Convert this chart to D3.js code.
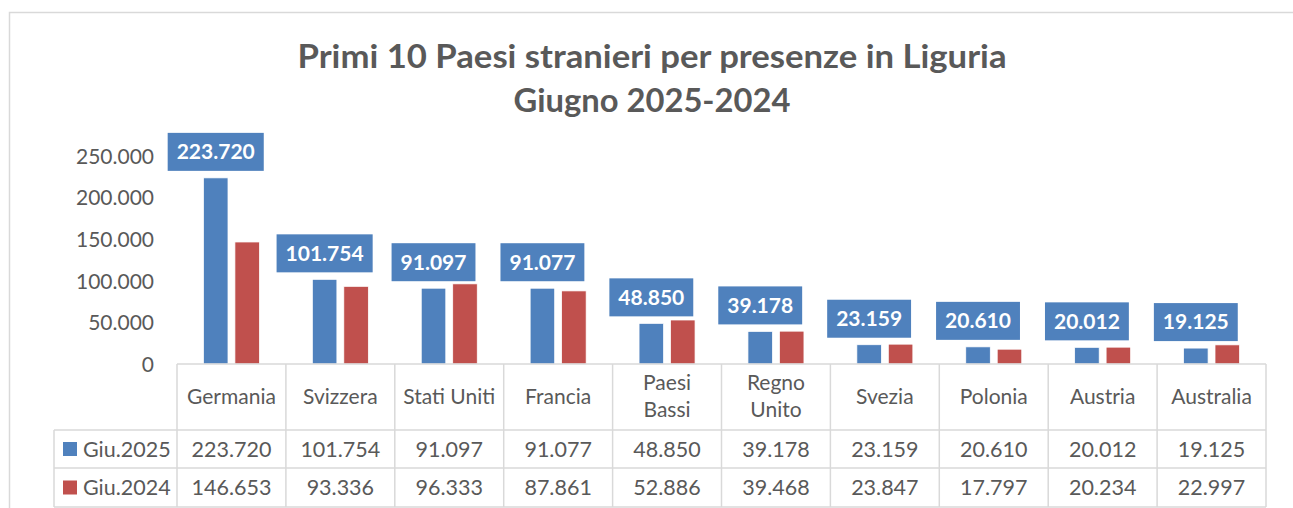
<!DOCTYPE html>
<html>
<head>
<meta charset="utf-8">
<script src="https://cdn.jsdelivr.net/npm/d3@7"></script>
<style>
  html, body { margin: 0; padding: 0; background: #fff; }
  svg { display: block; font-family: Lato, "Open Sans", sans-serif; }
</style>
</head>
<body>
<svg id="chart" width="1293" height="508"></svg>
<script>
// ---- data ----
const titleLines = ["Primi 10 Paesi stranieri per presenze in Liguria", "Giugno 2025-2024"];
const categories = ["Germania", "Svizzera", "Stati Uniti", "Francia", "Paesi Bassi", "Regno Unito", "Svezia", "Polonia", "Austria", "Australia"];
const seriesNames = ["Giu.2025", "Giu.2024"];
const giu2025 = [223720, 101754, 91097, 91077, 48850, 39178, 23159, 20610, 20012, 19125];
const giu2024 = [146653, 93336, 96333, 87861, 52886, 39468, 23847, 17797, 20234, 22997];
const yTicks = [0, 50000, 100000, 150000, 200000, 250000];
const seriesColors = ["#4F81BD", "#C0504D"];

const seriesValues = [giu2025, giu2024];
const itLocale = d3.formatLocale({ decimal: ",", thousands: ".", grouping: [3], currency: ["€", ""] });
const fmt = itLocale.format(",d");

const svg = d3.select("#chart");
const textColor = "#595959";
const gridColor = "#D9D9D9";

// chart frame
svg.append("rect").attr("x", 9.5).attr("y", 12.5).attr("width", 1400).attr("height", 600)
  .attr("fill", "#fff").attr("stroke", gridColor).attr("stroke-width", 1.5);

// title
const titleWidths = [709, 277];
svg.append("g").selectAll("text").data(titleLines).join("text")
  .attr("x", 652).attr("y", (d, i) => 68 + i * 44)
  .attr("text-anchor", "middle")
  .attr("font-size", 32).attr("font-weight", "bold").attr("fill", textColor)
  .attr("textLength", (d, i) => titleWidths[i]).attr("lengthAdjust", "spacingAndGlyphs")
  .text(d => d);

// scales
const plotLeft = 177, plotRight = 1266;
const y = d3.scaleLinear().domain([0, 250000]).range([364, 156]);
const x0 = d3.scaleBand().domain(categories).range([plotLeft, plotRight]).padding(0);
const groupW = 56;
const x1 = d3.scaleBand().domain(seriesNames).range([0, groupW]).paddingInner(0.22);
const groupOffset = (x0.bandwidth() - groupW) / 2;

// y axis
const yAxis = d3.axisLeft(y).tickValues(yTicks).tickSize(0).tickPadding(0).tickFormat(fmt);
const yg = svg.append("g").attr("transform", "translate(154,0)").call(yAxis);
yg.select(".domain").remove();
yg.selectAll("text").attr("font-size", 21).attr("fill", textColor)
  .attr("font-family", "Lato, sans-serif").attr("dy", "0.35em");

// bars
const barData = [];
categories.forEach((c, i) => {
  seriesNames.forEach((s, j) => barData.push({ cat: c, series: s, value: seriesValues[j][i], color: seriesColors[j] }));
});
svg.append("g").selectAll("rect").data(barData).join("rect")
  .attr("x", d => x0(d.cat) + groupOffset + x1(d.series))
  .attr("width", x1.bandwidth())
  .attr("y", d => y(d.value))
  .attr("height", d => y(0) - y(d.value))
  .attr("fill", d => d.color)
  .attr("stroke", "#fff").attr("stroke-width", 0.75);

// data labels for Giu.2025 (boxed)
const lblG = svg.append("g");
categories.forEach((c, i) => {
  const v = giu2025[i];
  const cx = x0(c) + groupOffset + x1(seriesNames[0]) + x1.bandwidth() / 2;
  const bottom = y(v) - 7;
  const g = lblG.append("g");
  const t = g.append("text").attr("x", cx).attr("y", bottom - 19).attr("dy", "0.35em")
    .attr("text-anchor", "middle").attr("font-size", 21).attr("font-weight", "bold")
    .attr("fill", "#fff").text(fmt(v));
  const w = t.node().getComputedTextLength() + 18;
  g.insert("rect", "text").attr("x", cx - w / 2).attr("y", bottom - 38).attr("width", w).attr("height", 38)
    .attr("fill", seriesColors[0]);
});

// data table
const tbl = svg.append("g");
const rowTop = 364, headerBottom = 430, row1Bottom = 468, row2Bottom = 507, legendLeft = 54;
const line = (x1_, y1_, x2_, y2_) => tbl.append("line").attr("x1", x1_).attr("y1", y1_).attr("x2", x2_).attr("y2", y2_)
  .attr("stroke", gridColor).attr("stroke-width", 1.5);
line(plotLeft, rowTop, plotRight, rowTop);
line(legendLeft, headerBottom, plotRight, headerBottom);
line(legendLeft, row1Bottom, plotRight, row1Bottom);
line(legendLeft, row2Bottom, plotRight, row2Bottom);
line(legendLeft, headerBottom, legendLeft, row2Bottom);
categories.forEach(c => line(x0(c), rowTop, x0(c), row2Bottom));
line(plotRight, rowTop, plotRight, row2Bottom);

// category labels with wrapping
categories.forEach(c => {
  const cx = x0(c) + x0.bandwidth() / 2;
  const t = tbl.append("text").attr("x", cx).attr("text-anchor", "middle").attr("font-size", 21).attr("fill", textColor);
  t.text(c);
  const words = c.split(" ");
  if (t.node().getComputedTextLength() > 92 && words.length > 1) {
    t.text(null);
    words.forEach((w, k) => t.append("tspan").attr("x", cx).attr("y", 383 + k * 27).attr("dy", "0.35em").text(w));
  } else {
    t.attr("y", 397).attr("dy", "0.35em");
  }
});

// values rows
const rowCenters = [449, 487.5];
seriesNames.forEach((s, j) => {
  tbl.append("rect").attr("x", 63).attr("y", rowCenters[j] - 7).attr("width", 14).attr("height", 14).attr("fill", seriesColors[j]);
  tbl.append("text").attr("x", 83).attr("y", rowCenters[j]).attr("dy", "0.35em").attr("font-size", 21.5).attr("fill", textColor).text(s);
  categories.forEach((c, i) => {
    tbl.append("text").attr("x", x0(c) + x0.bandwidth() / 2).attr("y", rowCenters[j]).attr("dy", "0.35em")
      .attr("text-anchor", "middle").attr("font-size", 21.5).attr("fill", textColor).text(fmt(seriesValues[j][i]));
  });
});
</script>
</body>
</html>
